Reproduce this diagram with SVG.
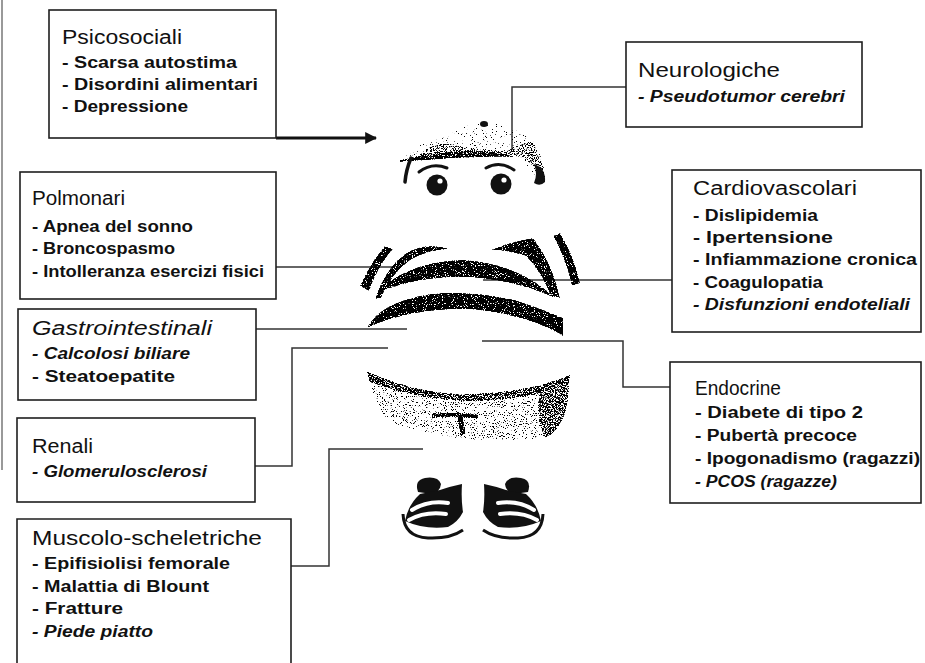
<svg xmlns="http://www.w3.org/2000/svg" width="925" height="663" viewBox="0 0 925 663">
  <defs>
    <style>
      .box { fill: #fff; stroke: #1e1e1e; stroke-width: 1.6; }
      .ttl { font-family: "Liberation Sans", Arial, sans-serif; font-size: 20px; fill: #111; }
      .itm { font-family: "Liberation Sans", Arial, sans-serif; font-size: 16px; font-weight: bold; fill: #111; }
      .it { font-style: italic; }
      .ar { font-family: "Liberation Sans", Arial, sans-serif; fill: #111; }
      .link { fill: none; stroke: #333; stroke-width: 1.5; }
      .ink { fill: #111; }
      .line { fill: none; stroke: #111; stroke-linecap: round; }
    </style>
    <marker id="arrow" viewBox="0 0 10 10" refX="9" refY="5" markerWidth="4" markerHeight="4" orient="auto" markerUnits="strokeWidth">
      <path d="M0,0 L10,5 L0,10 Z" fill="#111"/>
    </marker>
    <!-- turns grey fills into black stippling: darker grey = denser dots -->
    <filter id="grain" x="-5%" y="-5%" width="110%" height="110%" color-interpolation-filters="sRGB">
      <feColorMatrix in="SourceGraphic" type="matrix" values="0 0 0 0 0  0 0 0 0 0  0 0 0 0 0  -1 0 0 1 0" result="dark"/>
      <feTurbulence type="fractalNoise" baseFrequency="0.9" numOctaves="2" seed="7" result="noise"/>
      <feColorMatrix in="noise" type="matrix" values="0 0 0 0 0  0 0 0 0 0  0 0 0 0 0  1 0 0 0 0" result="n"/>
      <feComposite in="dark" in2="n" operator="arithmetic" k1="0" k2="10" k3="-20" k4="5" result="d"/>
      <feColorMatrix in="d" type="matrix" values="0 0 0 0 0  0 0 0 0 0  0 0 0 0 0  0 0 0 1 0" result="dots"/>
      <feComposite in="dots" in2="SourceAlpha" operator="in"/>
    </filter>
  </defs>

  <rect width="925" height="663" fill="#fff"/>
  <!-- page edge -->
  <line x1="2" y1="0" x2="2" y2="470" stroke="#777" stroke-width="1.5"/>

  <!-- connectors -->
  <g id="connectors">
    <path d="M276,138 H376" fill="none" stroke="#111" stroke-width="3" marker-end="url(#arrow)"/>
    <path class="link" d="M626,87 H512 V150"/>
    <path class="link" d="M276,267 H395"/>
    <path class="link" d="M672,280 H483"/>
    <path class="link" d="M256,329 H407"/>
    <path class="link" d="M255,466 H292 V348 H388"/>
    <path class="link" d="M291,566 H329 V449 H423"/>
    <path class="link" d="M670,387 H623 V341 H482"/>
  </g>

  <!-- central figure -->
  <g id="figure">
    <!-- cap -->
    <g filter="url(#grain)">
      <path d="M400,160 Q420,142 445,134 Q470,122 495,123 Q525,128 540,150 Q546,165 545,180 L536,183 Q532,165 515,157 Q470,150 400,160 Z" fill="#dadada"/>
      <path d="M418,156 Q430,142 450,144 Q470,149 505,151 Q520,146 530,140 Q542,152 544,170 L536,172 Q528,158 512,155 Q470,151 418,156 Z" fill="#858585"/>
      <path d="M400,160 Q440,151 480,151 Q502,152 514,157 Q480,156 400,162 Z" fill="#333"/>
    </g>
    <ellipse class="ink" cx="484" cy="124" rx="4" ry="3"/>
    <path class="ink" d="M534,164 Q546,168 545,182 Q540,187 534,183 Q538,174 534,164 Z"/>
    <path class="line" d="M411,158 Q406,170 405,182" stroke-width="3.5"/>
    <!-- eyebrows and eyes -->
    <path class="line" d="M419,172 Q432,162 447,168" stroke-width="3"/>
    <path class="line" d="M486,168 Q500,160 514,170" stroke-width="3"/>
    <circle class="ink" cx="437" cy="185" r="10.5"/>
    <circle class="ink" cx="501" cy="184" r="10.5"/>
    <circle cx="440" cy="181" r="2.6" fill="#fff"/>
    <circle cx="504" cy="180" r="2.6" fill="#fff"/>
    <!-- striped shirt -->
    <g filter="url(#grain)" fill="#262626">
      <path d="M385,246 L393,249 Q378,266 369,291 L360,286 Q370,263 385,246 Z"/>
      <path d="M375,299 Q386,266 408,252 Q428,242 450,249 Q428,250 412,259 Q392,272 381,298 Z"/>
      <path d="M491,250 Q512,241 533,238 Q552,262 560,298 L551,296 Q540,270 526,256 Q508,250 491,250 Z"/>
      <path d="M553,236 L560,233 Q574,255 580,283 L572,286 Q566,259 553,236 Z"/>
      <path d="M382,286 Q420,259 465,260 Q520,264 555,298 Q515,280 468,277 Q420,276 382,291 Z"/>
      <path d="M367,328 Q380,302 430,294 Q470,290 515,300 Q545,310 563,318 L563,336 Q530,315 470,309 Q410,308 367,328 Z"/>
    </g>
    <!-- belly -->
    <g filter="url(#grain)">
      <path d="M366,371 Q420,395 470,394 Q530,392 570,375 L568,402 Q562,430 546,438 Q505,442 470,440 Q420,433 387,421 Q372,397 366,371 Z" fill="#bdbdbd"/>
      <path d="M366,371 Q420,395 470,394 Q530,392 570,375 L569,384 Q530,400 470,401 Q415,399 370,382 Z" fill="#555"/>
      <path d="M540,392 Q558,386 569,380 L568,402 Q562,430 546,438 Q534,420 540,392 Z" fill="#666"/>
      <path d="M432,416 Q455,413 478,417" fill="none" stroke="#1a1a1a" stroke-width="3.5"/>
      <path d="M460,416 L463,434" fill="none" stroke="#1a1a1a" stroke-width="5"/>
    </g>
    <!-- shoes -->
    <g id="shoe-left">
      <path class="ink" d="M418,492 Q414,480 425,478 Q438,476 441,484 Q440,492 432,494 Z"/>
      <path class="ink" d="M405,521 Q408,505 420,494 L440,490 Q452,486 462,484 Q461,500 463,512 Q458,522 448,527 Q425,530 405,521 Z"/>
      <path d="M412,510 Q428,500 448,503" fill="none" stroke="#fff" stroke-width="4" stroke-linecap="round"/>
      <path d="M409,520 Q425,511 446,514" fill="none" stroke="#fff" stroke-width="4" stroke-linecap="round"/>
      <path d="M403,514 Q404,537 428,538 Q450,539 463,530" fill="none" stroke="#111" stroke-width="3"/>
    </g>
    <g id="shoe-right" transform="matrix(-1 0 0 1 946 0)">
      <path class="ink" d="M418,492 Q414,480 425,478 Q438,476 441,484 Q440,492 432,494 Z"/>
      <path class="ink" d="M405,521 Q408,505 420,494 L440,490 Q452,486 462,484 Q461,500 463,512 Q458,522 448,527 Q425,530 405,521 Z"/>
      <path d="M412,510 Q428,500 448,503" fill="none" stroke="#fff" stroke-width="4" stroke-linecap="round"/>
      <path d="M409,520 Q425,511 446,514" fill="none" stroke="#fff" stroke-width="4" stroke-linecap="round"/>
      <path d="M403,514 Q404,537 428,538 Q450,539 463,530" fill="none" stroke="#111" stroke-width="3"/>
    </g>
  </g>

  <!-- category boxes -->
  <g id="psicosociali">
    <rect class="box" x="49" y="10" width="227" height="128"/>
    <text class="ttl" x="62" y="44" textLength="120" lengthAdjust="spacingAndGlyphs">Psicosociali</text>
    <text class="itm" x="62" y="68" textLength="175" lengthAdjust="spacingAndGlyphs">- Scarsa autostima</text>
    <text class="itm" x="62" y="90" textLength="196" lengthAdjust="spacingAndGlyphs">- Disordini alimentari</text>
    <text class="itm" x="62" y="112" textLength="126" lengthAdjust="spacingAndGlyphs">- Depressione</text>
  </g>

  <g id="neurologiche">
    <rect class="box" x="626" y="42" width="236" height="85"/>
    <text class="ttl" x="638" y="77" textLength="142" lengthAdjust="spacingAndGlyphs">Neurologiche</text>
    <text class="itm it" x="638" y="102" textLength="207" lengthAdjust="spacingAndGlyphs">- Pseudotumor cerebri</text>
  </g>

  <g id="polmonari">
    <rect class="box" x="20" y="172" width="256" height="127"/>
    <text class="ar" x="32" y="205" font-size="20" textLength="93" lengthAdjust="spacingAndGlyphs">Polmonari</text>
    <text class="ar" x="32" y="232" font-size="17" font-weight="bold" textLength="161" lengthAdjust="spacingAndGlyphs">- Apnea del sonno</text>
    <text class="ar" x="32" y="254" font-size="17" font-weight="bold" textLength="143" lengthAdjust="spacingAndGlyphs">- Broncospasmo</text>
    <text class="ar" x="32" y="277" font-size="17" font-weight="bold" textLength="232" lengthAdjust="spacingAndGlyphs">- Intolleranza esercizi fisici</text>
  </g>

  <g id="cardiovascolari">
    <rect class="box" x="672" y="170" width="249" height="162"/>
    <text class="ttl" x="693" y="195" textLength="164" lengthAdjust="spacingAndGlyphs">Cardiovascolari</text>
    <text class="itm" x="693" y="221" textLength="125" lengthAdjust="spacingAndGlyphs">- Dislipidemia</text>
    <text class="itm" x="693" y="243" textLength="140" lengthAdjust="spacingAndGlyphs">- Ipertensione</text>
    <text class="itm" x="693" y="265" textLength="224" lengthAdjust="spacingAndGlyphs">- Infiammazione cronica</text>
    <text class="itm" x="693" y="288" textLength="130" lengthAdjust="spacingAndGlyphs">- Coagulopatia</text>
    <text class="itm it" x="693" y="310" textLength="217" lengthAdjust="spacingAndGlyphs">- Disfunzioni endoteliali</text>
  </g>

  <g id="gastrointestinali">
    <rect class="box" x="18" y="309" width="238" height="91"/>
    <text class="ttl it" x="32" y="335" textLength="180" lengthAdjust="spacingAndGlyphs">Gastrointestinali</text>
    <text class="itm it" x="32" y="359" textLength="158" lengthAdjust="spacingAndGlyphs">- Calcolosi biliare</text>
    <text class="itm" x="32" y="382" textLength="143" lengthAdjust="spacingAndGlyphs">- Steatoepatite</text>
  </g>

  <g id="renali">
    <rect class="box" x="17" y="418" width="238" height="84"/>
    <text class="ttl" x="32" y="453" textLength="61" lengthAdjust="spacingAndGlyphs">Renali</text>
    <text class="itm it" x="32" y="477" textLength="175" lengthAdjust="spacingAndGlyphs">- Glomerulosclerosi</text>
  </g>

  <g id="muscolo-scheletriche">
    <path class="box" d="M17,670 V519 H291 V670"/>
    <text class="ttl" x="32" y="545" textLength="230" lengthAdjust="spacingAndGlyphs">Muscolo-scheletriche</text>
    <text class="itm" x="32" y="569" textLength="198" lengthAdjust="spacingAndGlyphs">- Epifisiolisi femorale</text>
    <text class="itm" x="32" y="592" textLength="177" lengthAdjust="spacingAndGlyphs">- Malattia di Blount</text>
    <text class="itm" x="32" y="614" textLength="91" lengthAdjust="spacingAndGlyphs">- Fratture</text>
    <text class="itm it" x="32" y="637" textLength="121" lengthAdjust="spacingAndGlyphs">- Piede piatto</text>
  </g>

  <g id="endocrine">
    <rect class="box" x="670" y="362" width="251" height="141"/>
    <text class="ttl" x="695" y="395" textLength="86" lengthAdjust="spacingAndGlyphs">Endocrine</text>
    <text class="itm" x="695" y="418" textLength="168" lengthAdjust="spacingAndGlyphs">- Diabete di tipo 2</text>
    <text class="itm" x="695" y="441" textLength="162" lengthAdjust="spacingAndGlyphs">- Pubertà precoce</text>
    <text class="itm" x="695" y="464" textLength="225" lengthAdjust="spacingAndGlyphs">- Ipogonadismo (ragazzi)</text>
    <text class="itm it" x="695" y="487" textLength="142" lengthAdjust="spacingAndGlyphs">- PCOS (ragazze)</text>
  </g>
</svg>
